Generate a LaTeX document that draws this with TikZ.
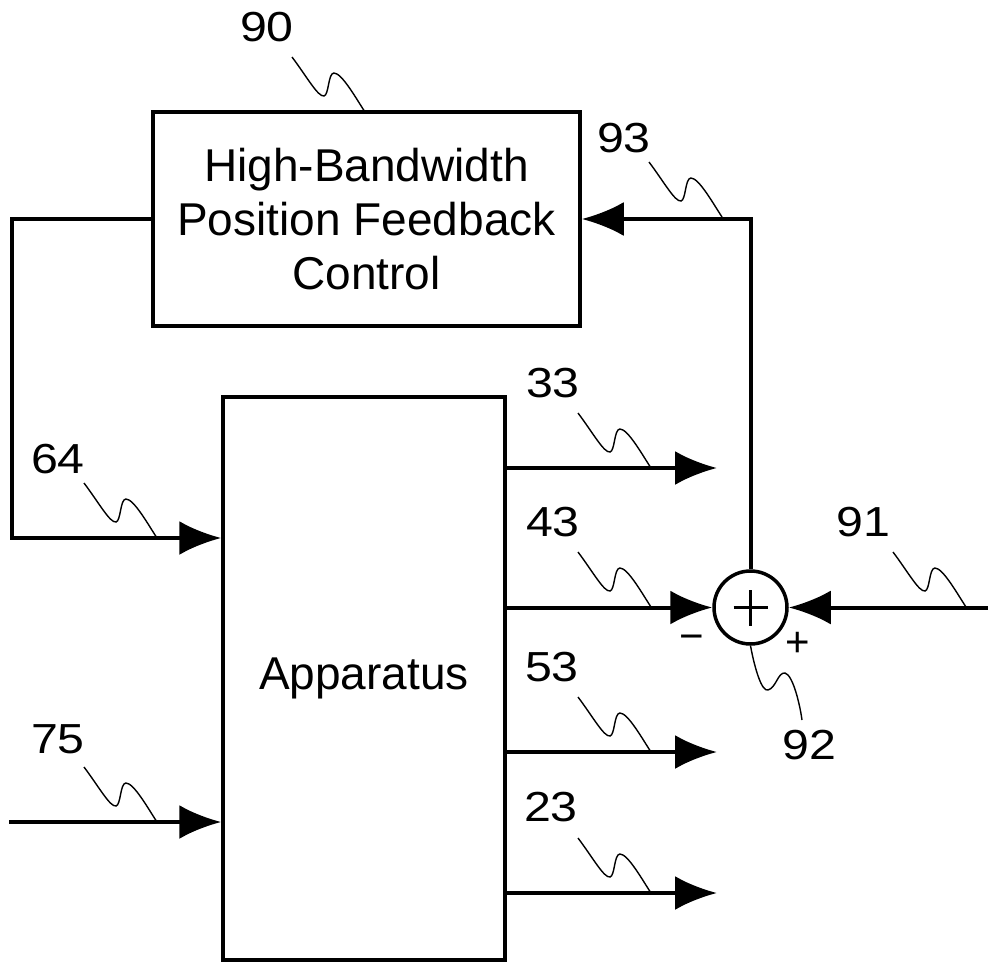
\documentclass[tikz,border=0pt]{standalone}
\usepackage{fontspec}
\setmainfont{Liberation Sans}
\newfontfamily\labfont[FakeStretch=1.15]{Liberation Sans}
\usetikzlibrary{arrows.meta}
\begin{document}
\begin{tikzpicture}[x=1pt,y=-1pt,
  wire/.style={line width=4pt},
  tip/.style={-{Latex[length=42pt,width=34pt]}},
  blockbox/.style={draw,line width=3.5pt,inner sep=0pt,align=center,font=\fontsize{46}{54}\selectfont},
  lab/.style={inner sep=0pt,font=\labfont\fontsize{42}{42}\selectfont},
  sign/.style={inner sep=0pt,font=\fontsize{42}{42}\selectfont},
  leader/.style={line width=1.4pt},
  squig/.pic={\draw[leader] (0,0) .. controls (15,20) and (26,40) .. (32,39) .. controls (37,38) and (36,16) .. (42,16) .. controls (50,16) and (65,43) .. (73,55);}
]
\useasboundingbox[fill=white] (0,0) rectangle (988,963);

% blocks
\node[blockbox,minimum width=427pt,minimum height=214pt] (box90) at (366.5,219) {High-Bandwidth\\Position Feedback\\Control};
\node[blockbox,minimum width=282pt,minimum height=563pt] (app) at (364,678.5) {Apparatus};
\node[draw,circle,line width=3.5pt,minimum size=73pt,inner sep=0pt] (sum) at (750.5,607.5) {};
\draw[line width=3.5pt] ([xshift=-17pt]sum.center) -- ([xshift=17pt]sum.center)
                      ([yshift=-18pt]sum.center) -- ([yshift=18pt]sum.center);
\node[sign] (minus) at (692,643) {−};
\node[sign] (plus) at (798,644) {+};

% free ends
\coordinate (fbc) at (12,538);
\coordinate (in75) at (9,822);
\coordinate (in91) at (988,607.5);
\coordinate (o33) at (717,468);
\coordinate (o53) at (717,752);
\coordinate (o23) at (717,893);

% connectors
\draw[wire,tip] (box90.west) -| (fbc) -- (fbc -| app.west);
\draw[wire,tip] (in75) -- (in75 -| app.west);
\draw[wire,tip] (app.east |- o33) -- (o33);
\draw[wire,tip] (app.east |- sum.west) -- (sum.west);
\draw[wire,tip] (app.east |- o53) -- (o53);
\draw[wire,tip] (app.east |- o23) -- (o23);
\draw[wire,tip] (in91) -- (sum.east);
\draw[wire,tip] (sum.north) |- (box90.east);

% reference labels
\node[lab] (l90) at (267,27) {90};
\node[lab] (l93) at (624,138) {93};
\node[lab] (l64) at (58,459) {64};
\node[lab] (l33) at (553,383) {33};
\node[lab] (l43) at (553,522) {43};
\node[lab] (l91) at (863,522) {91};
\node[lab] (l53) at (552,667) {53};
\node[lab] (l92) at (809,745) {92};
\node[lab] (l75) at (58,739) {75};
\node[lab] (l23) at (551,807) {23};

% leaders
\pic at (292,57) {squig};
\pic at (649,162) {squig};
\pic at (84,483) {squig};
\pic at (578,413) {squig};
\pic at (578,552) {squig};
\pic at (893,552) {squig};
\pic at (578,697) {squig};
\pic at (84,767) {squig};
\pic at (578,838) {squig};
\draw[leader] (sum.south) .. controls (755,670) and (762,692) .. (768,690) .. controls (776,688) and (778,672) .. (785,673) .. controls (793,675) and (800,705) .. (802,720);
\end{tikzpicture}
\end{document}
